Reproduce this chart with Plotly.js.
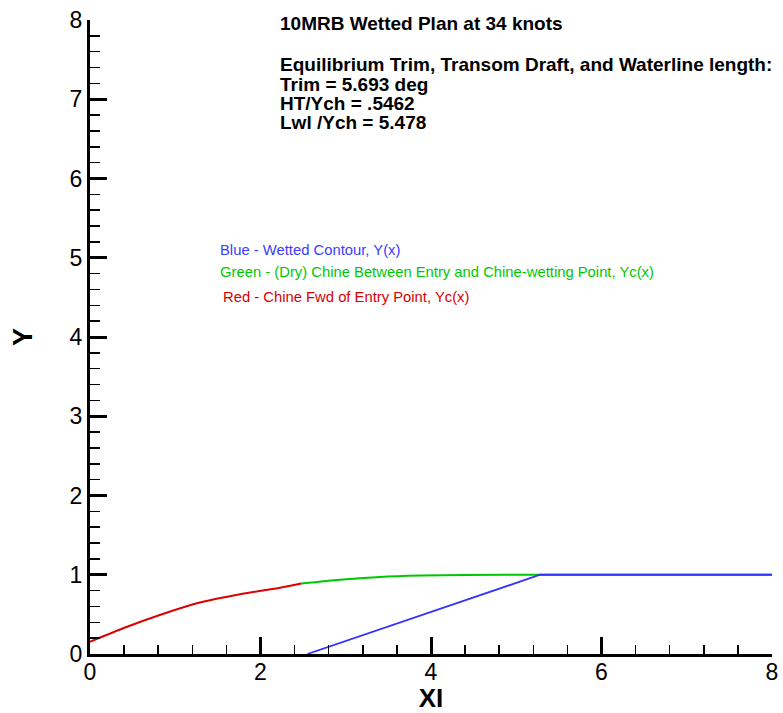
<!DOCTYPE html>
<html>
<head>
<meta charset="utf-8">
<script src="https://cdn.plot.ly/plotly-3.0.1.min.js"></script>
<style>html,body{margin:0;padding:0;background:#fff;}</style>
</head>
<body>
<div id="chart" style="width:783px;height:713px;"></div>
<script>
// Red - Chine forward of entry point
const redX = [0, 0.42, 0.88, 1.30, 1.76, 2.23, 2.48];
const redY = [0.155, 0.337, 0.514, 0.652, 0.754, 0.837, 0.89];
// Green - dry chine between entry and chine-wetting point
const greenX = [2.48, 2.93, 3.40, 3.87, 4.40, 5.28, 8.0];
const greenY = [0.89, 0.938, 0.972, 0.989, 0.998, 1.0, 1.0];
// Blue - wetted contour
const blueX = [2.55, 5.28, 8.0];
const blueY = [0.0, 1.0, 1.0];

const titleLines = [
  "10MRB Wetted Plan at 34 knots",
  "Equilibrium Trim, Transom Draft, and Waterline length:",
  "Trim = 5.693 deg",
  "HT/Ych = .5462",
  "Lwl /Ych = 5.478"
];
const legendLines = [
  "Blue - Wetted Contour, Y(x)",
  "Green - (Dry) Chine Between Entry and Chine-wetting Point, Yc(x)",
  "Red - Chine Fwd of Entry Point, Yc(x)"
];

const FONT = "Arial, 'Liberation Sans', sans-serif";
const W = 783, H = 713;
const L = 89.5, R = 772.5, T = 20, B = 654;
function px(x){ return (x - L) / (R - L); }
function py(y){ return (B - y) / (B - T); }

const traces = [
  {x: greenX, y: greenY, mode: 'lines', line: {color: 'rgb(0,200,0)', width: 2, shape: 'spline', smoothing: 0.6}, hoverinfo: 'skip'},
  {x: redX, y: redY, mode: 'lines', line: {color: 'rgb(220,0,0)', width: 2, shape: 'spline', smoothing: 0.6}, hoverinfo: 'skip'},
  {x: blueX, y: blueY, mode: 'lines', line: {color: 'rgb(50,50,255)', width: 1.8}, hoverinfo: 'skip'}
];

const titleY = [24, 64, 84, 103.5, 122.5];
const legendY = [250, 271.5, 296.7];
const legendXpx = [218, 218, 220.5];
const legendCol = ['rgb(60,60,255)', 'rgb(0,200,0)', 'rgb(215,0,0)'];

const annotations = [];
titleLines.forEach((t, i) => {
  annotations.push({
    xref: 'paper', yref: 'paper', x: px(278), y: py(titleY[i]),
    xanchor: 'left', yanchor: 'middle', showarrow: false,
    text: '<b>' + t + '</b>',
    font: {family: FONT, size: 19, color: '#000'}
  });
});
legendLines.forEach((t, i) => {
  annotations.push({
    xref: 'paper', yref: 'paper', x: px(legendXpx[i]), y: py(legendY[i]),
    xanchor: 'left', yanchor: 'middle', showarrow: false,
    text: t,
    font: {family: FONT, size: 14.8, color: legendCol[i]}
  });
});

const axisCommon = {
  range: [0, 8],
  showgrid: false, zeroline: false,
  showline: true, linewidth: 3, linecolor: '#000',
  ticks: 'inside', ticklen: 17, tickwidth: 3, tickcolor: '#000',
  tickfont: {family: FONT, size: 23, color: '#000'},
  fixedrange: true
};

const layout = {
  width: W, height: H,
  margin: {l: L, r: W - R, t: T, b: H - B, pad: 0},
  paper_bgcolor: '#fff', plot_bgcolor: '#fff',
  showlegend: false,
  xaxis: Object.assign({}, axisCommon, {
    tickmode: 'linear', tick0: 0, dtick: 2,
    ticklabelstandoff: -5,
    minor: {ticks: 'inside', ticklen: 9, tickwidth: 1.5, tickcolor: '#000', dtick: 0.4, tick0: 0, showgrid: false},
    title: {text: '<b>XI</b>', font: {family: FONT, size: 26, color: '#000'}, standoff: 0}
  }),
  yaxis: Object.assign({}, axisCommon, {
    tickmode: 'linear', tick0: 0, dtick: 1,
    minor: {ticks: 'inside', ticklen: 10, tickwidth: 1.5, tickcolor: '#000', dtick: 0.2, tick0: 0, showgrid: false},
    title: {text: '<b>Y</b>', font: {family: FONT, size: 27, color: '#000'}, standoff: 30}
  }),
  annotations: annotations
};

Plotly.newPlot('chart', traces, layout, {displayModeBar: false, staticPlot: true});
</script>
</body>
</html>
